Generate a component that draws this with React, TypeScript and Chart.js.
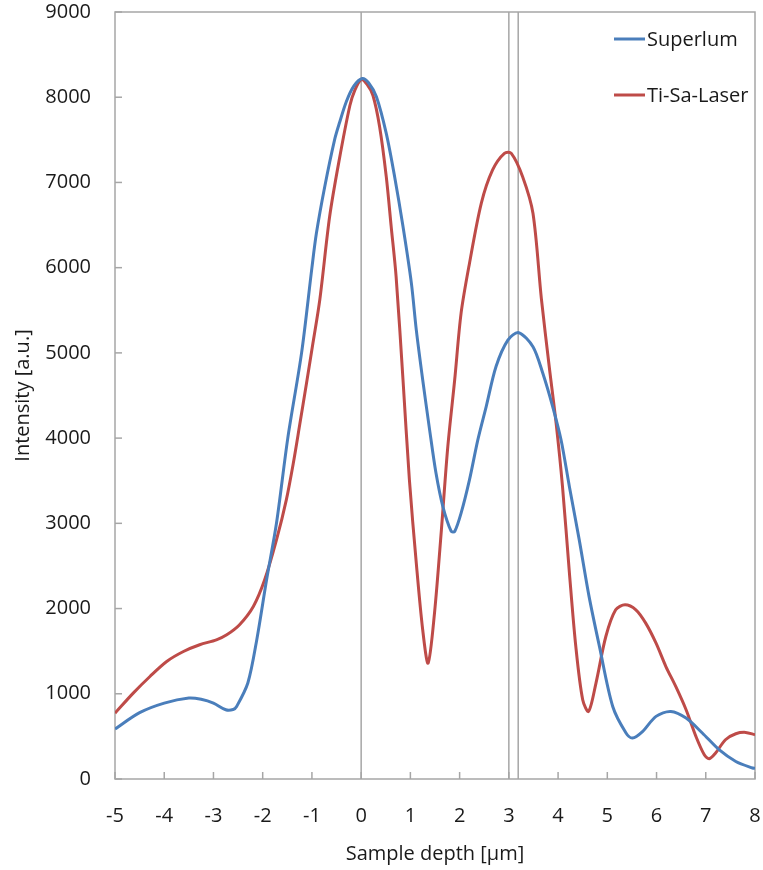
import { useEffect, useRef } from "react";
import { Chart, registerables } from "chart.js";

Chart.register(...registerables);

const superlumDepth = [
  -5.0, -4.5, -4.0, -3.5, -3.25, -3.0, -2.75, -2.6, -2.53, -2.3, -2.12, -1.92, -1.72, -1.49, -1.21, -1.0,
  -0.91, -0.74, -0.54, -0.44, -0.3, -0.15, 0.02, 0.15, 0.31, 0.51, 0.68, 0.85, 1.02, 1.12, 1.25, 1.39,
  1.52, 1.66, 1.83, 1.9, 2.03, 2.2, 2.37, 2.54, 2.74, 2.98, 3.2, 3.49, 3.69, 3.89, 4.06, 4.23, 4.43,
  4.63, 4.84, 5.11, 5.38, 5.51, 5.72, 5.99, 6.29, 6.6, 6.93, 7.27, 7.61, 7.95, 8.0,
];
const superlumIntensity = [
  586, 778, 890, 950, 935, 890, 812, 815, 850, 1130, 1635, 2340, 3000, 4000, 5000, 6000,
  6400, 6950, 7500, 7700, 7950, 8130, 8220, 8170, 8006, 7576, 7068, 6482, 5818, 5270, 4685, 4100,
  3590, 3197, 2905, 2905, 3120, 3510, 3980, 4370, 4840, 5150, 5237, 5073, 4760, 4370, 3980, 3430, 2806,
  2140, 1556, 851, 540, 480, 560, 735, 793, 715, 540, 344, 206, 129, 125,
];

const laserDepth = [
  -5.0, -4.63, -4.29, -3.95, -3.61, -3.28, -2.94, -2.73, -2.47, -2.19, -1.96, -1.72, -1.52, -1.38, -1.25,
  -1.11, -0.98, -0.84, -0.64, -0.45, -0.23, -0.13, 0.0, 0.12, 0.24, 0.375, 0.51, 0.61, 0.71, 0.85, 0.98,
  1.12, 1.25, 1.36, 1.49, 1.63, 1.76, 1.9, 2.03, 2.2, 2.44, 2.67, 2.91, 3.05, 3.28, 3.49, 3.66, 3.82,
  3.96, 4.09, 4.23, 4.36, 4.5, 4.62, 4.77, 4.97, 5.17, 5.36, 5.58, 5.78, 5.99, 6.19, 6.39, 6.6, 6.8,
  6.97, 7.07, 7.2, 7.4, 7.61, 7.81, 8.0,
];
const laserIntensity = [
  773, 1008, 1203, 1379, 1496, 1575, 1633, 1692, 1810, 2024, 2337, 2805, 3276, 3700, 4150,
  4644, 5112, 5624, 6600, 7250, 7900, 8080, 8207, 8150, 8020, 7654, 7068, 6482, 5895, 4685, 3510,
  2533, 1751, 1360, 1947, 2924, 3900, 4685, 5466, 6050, 6755, 7147, 7342, 7342, 7068, 6638, 5640, 4840,
  4175, 3432, 2420, 1556, 930, 793, 1126, 1672, 1985, 2044, 1985, 1829, 1594, 1320, 1086, 813, 500,
  285, 238, 305, 461, 531, 547, 520,
];

const seriesLabels = ["Superlum", "Ti-Sa-Laser"];
const seriesColors = ["#4A7EBB", "#BE4B48"];
const xTickValues = [-5, -4, -3, -2, -1, 0, 1, 2, 3, 4, 5, 6, 7, 8];
const yTickValues = [0, 1000, 2000, 3000, 4000, 5000, 6000, 7000, 8000, 9000];
const markerDepths = [0, 3.0, 3.19];
const xTitle = "Sample depth [µm]";
const yTitle = "Intensity [a.u.]";

const FONT = "'Open Sans', 'Liberation Sans', sans-serif";
const AXIS_COLOR = "#A6A6A6";
const TEXT_COLOR = "#1a1a1a";

const framePlugin = {
  id: "frame",
  beforeDatasetsDraw(chart: any) {
    const { ctx, chartArea } = chart;
    const xs = chart.scales.x;
    const ys = chart.scales.y;
    ctx.save();
    ctx.strokeStyle = AXIS_COLOR;
    ctx.lineWidth = 1.5;
    markerDepths.forEach((d) => {
      const px = xs.getPixelForValue(d);
      ctx.beginPath();
      ctx.moveTo(px, chartArea.top);
      ctx.lineTo(px, chartArea.bottom);
      ctx.stroke();
    });
    ctx.strokeRect(chartArea.left, chartArea.top, chartArea.right - chartArea.left, chartArea.bottom - chartArea.top);
    xTickValues.forEach((v) => {
      const px = xs.getPixelForValue(v);
      ctx.beginPath();
      ctx.moveTo(px, chartArea.bottom);
      ctx.lineTo(px, chartArea.bottom - 7);
      ctx.stroke();
    });
    yTickValues.forEach((v) => {
      const py = ys.getPixelForValue(v);
      ctx.beginPath();
      ctx.moveTo(chartArea.left, py);
      ctx.lineTo(chartArea.left + 7, py);
      ctx.stroke();
    });
    ctx.restore();
  },
  afterDraw(chart: any) {
    const { ctx } = chart;
    ctx.save();
    ctx.font = `20px ${FONT}`;
    ctx.textBaseline = "middle";
    ctx.textAlign = "left";
    const rows = [39, 95];
    chart.data.datasets.forEach((ds: any, i: number) => {
      const y = rows[i];
      ctx.strokeStyle = ds.borderColor;
      ctx.lineWidth = 3;
      ctx.beginPath();
      ctx.moveTo(614, y);
      ctx.lineTo(645, y);
      ctx.stroke();
      ctx.fillStyle = TEXT_COLOR;
      ctx.fillText(ds.label, 647, y + 1);
    });
    ctx.restore();
  },
};

const zeroPadding = (s: any) => {
  s.paddingTop = 0;
  s.paddingBottom = 0;
  s.paddingLeft = 0;
  s.paddingRight = 0;
};

export default function App() {
  const canvasRef = useRef<HTMLCanvasElement | null>(null);

  useEffect(() => {
    document.body.style.margin = "0";
    const canvas = canvasRef.current;
    if (!canvas) return;
    const makeSeries = (xs: number[], ys: number[]) => xs.map((x, i) => ({ x, y: ys[i] }));
    const chart = new Chart(canvas, {
      type: "line",
      data: {
        datasets: [
          {
            label: seriesLabels[0],
            data: makeSeries(superlumDepth, superlumIntensity),
            borderColor: seriesColors[0],
            backgroundColor: seriesColors[0],
            borderWidth: 3,
            pointRadius: 0,
            tension: 0.3,
          },
          {
            label: seriesLabels[1],
            data: makeSeries(laserDepth, laserIntensity),
            borderColor: seriesColors[1],
            backgroundColor: seriesColors[1],
            borderWidth: 3,
            pointRadius: 0,
            tension: 0.3,
          },
        ],
      },
      options: {
        animation: false,
        responsive: false,
        maintainAspectRatio: false,
        layout: { padding: { top: 12, right: 8, left: 0, bottom: 0 } },
        plugins: {
          legend: { display: false },
          tooltip: { enabled: false },
        },
        scales: {
          x: {
            type: "linear",
            min: -5,
            max: 8,
            afterFit: (s: any) => {
              s.height = 91;
              zeroPadding(s);
            },
            afterBuildTicks: (s: any) => {
              s.ticks = xTickValues.map((v) => ({ value: v }));
            },
            ticks: {
              font: { family: FONT, size: 20 },
              color: TEXT_COLOR,
              padding: 25,
              maxRotation: 0,
              autoSkip: false,
              callback: (v: any) => String(v),
            },
            grid: { display: false, drawTicks: false },
            border: { display: false },
            title: {
              display: true,
              text: xTitle,
              font: { family: FONT, size: 20 },
              color: TEXT_COLOR,
              padding: { top: 0, bottom: 4 },
            },
          },
          y: {
            type: "linear",
            min: 0,
            max: 9000,
            afterFit: (s: any) => {
              s.width = 115;
              zeroPadding(s);
            },
            afterBuildTicks: (s: any) => {
              s.ticks = yTickValues.map((v) => ({ value: v }));
            },
            ticks: {
              font: { family: FONT, size: 20 },
              color: TEXT_COLOR,
              padding: 24,
              autoSkip: false,
              callback: (v: any) => String(v),
            },
            grid: { display: false, drawTicks: false },
            border: { display: false },
            title: {
              display: true,
              text: yTitle,
              font: { family: FONT, size: 20 },
              color: TEXT_COLOR,
              padding: { top: 11, bottom: 11 },
            },
          },
        },
      },
      plugins: [framePlugin],
    } as any);
    return () => chart.destroy();
  }, []);

  return (
    <div style={{ width: 763, height: 870 }}>
      <canvas ref={canvasRef} width={763} height={870} style={{ display: "block" }} />
    </div>
  );
}
